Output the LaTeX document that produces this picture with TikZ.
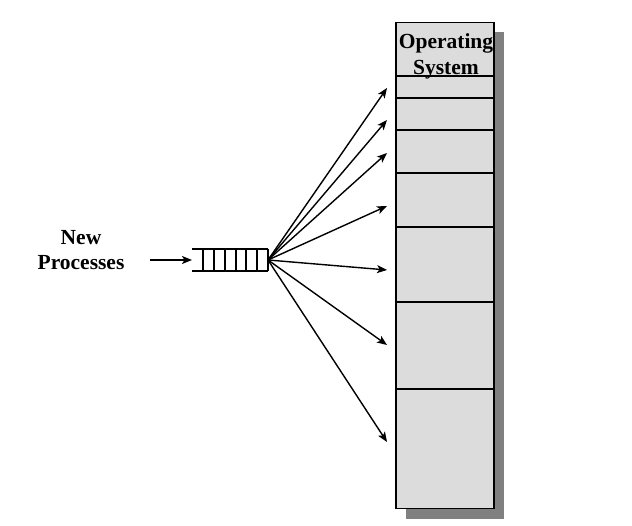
\documentclass[tikz,border=0pt]{standalone}
\usepackage{fontspec}
\setmainfont{Liberation Serif}
\usetikzlibrary{arrows.meta}
\definecolor{memfill}{HTML}{DCDCDC}
\definecolor{shadowgray}{HTML}{808080}
\tikzset{
  lbl/.style={font=\fontsize{21.5}{24}\selectfont\bfseries, inner sep=0pt, anchor=base},
  conn/.style={line width=1.4pt, -{Stealth[length=10pt,width=8pt,inset=2.5pt]}},
  part/.style={line width=1.4pt},
}
\begin{document}
\begin{tikzpicture}[x=1pt,y=1pt]
\useasboundingbox (0,0) rectangle (632,526);
% memory shadow and box
\fill[shadowgray] (406,7) rectangle (504,494);
\node[draw, line width=1.5pt, fill=memfill, minimum width=98pt, minimum height=486pt, inner sep=0pt, anchor=north west] (mem) at (395,504) {};
\foreach \yy in {450,428,396,353,299,224,137} \draw[part] (395,\yy) -- (493,\yy);
\node[lbl] (os1) at (446,477) {Operating};
\node[lbl] (os2) at (446,451) {System};
% label
\node[lbl] (new) at (81,281) {New};
\node[lbl] (proc) at (81,256) {Processes};
% queue
\draw[part] (192,277) -- (268,277) (192,255) -- (268,255);
\foreach \xx in {203,214,225,236,246,257,268} \draw[part] (\xx,277) -- (\xx,255);
\coordinate (qin) at (192,266);
\coordinate (qout) at (268,266);
\coordinate (src) at (150,266);
\draw[conn] (src) -- (qin);
% fan targets
\coordinate (t1) at (387,438);
\coordinate (t2) at (387,406);
\coordinate (t3) at (387,373);
\coordinate (t4) at (387,320);
\coordinate (t5) at (387,256);
\coordinate (t6) at (387,181);
\coordinate (t7) at (387,84);
\foreach \t in {t1,t2,t3,t4,t5,t6,t7} \draw[conn] (qout) -- (\t);
\end{tikzpicture}
\end{document}
